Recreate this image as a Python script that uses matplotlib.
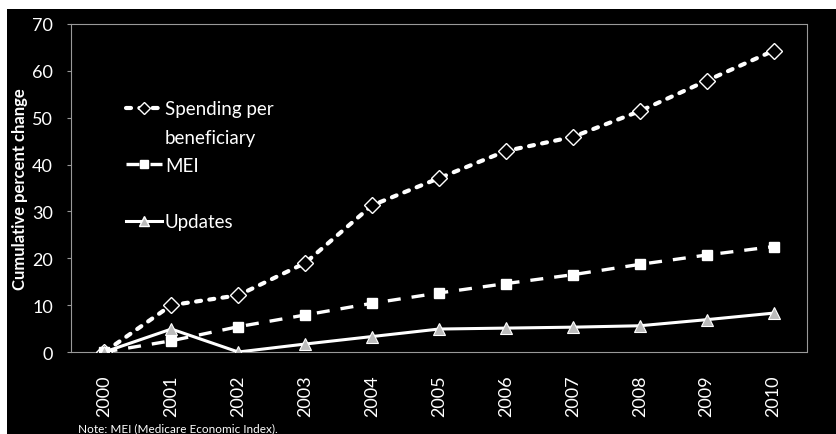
import matplotlib
matplotlib.use("Agg")
import matplotlib.pyplot as plt
from matplotlib.patches import Rectangle
from matplotlib.lines import Line2D

years = ["2000", "2001", "2002", "2003", "2004", "2005", "2006", "2007", "2008", "2009", "2010"]
spending = [0, 10.0, 12.1, 19.0, 31.3, 37.1, 42.9, 45.9, 51.4, 57.9, 64.3]
mei = [0, 2.4, 5.4, 7.9, 10.4, 12.6, 14.6, 16.5, 18.7, 20.7, 22.5]
updates = [0, 4.9, 0.0, 1.7, 3.3, 4.9, 5.1, 5.3, 5.6, 6.9, 8.3]
y_ticks = [0, 10, 20, 30, 40, 50, 60, 70]

plt.rcParams['font.family'] = ['Lato', 'DejaVu Sans']

W, H = 836, 435
fig = plt.figure(figsize=(W / 100, H / 100), dpi=100, facecolor='white')
bg = Rectangle((7 / W, 0), 1, (H - 10) / H, transform=fig.transFigure,
               facecolor='black', edgecolor='none', zorder=-10)
fig.patches.append(bg)

ax = fig.add_axes([71 / W, 1 - 353 / H, (807 - 71) / W, (353 - 25) / H])
ax.set_zorder(5)
ax.set_facecolor('black')
x = list(range(len(years)))

sp_ls = (0, (1.2, 2.0))
mei_ls = (0, (3.9, 3.3))
ax.plot(x, spending, color='white', lw=3, ls=sp_ls, dash_capstyle='round',
        marker='D', ms=8, mfc='black', mec='white', mew=1.0, zorder=3)
ax.plot(x, mei, color='white', lw=2.4, ls=mei_ls,
        marker='s', ms=7.5, mfc='white', mec='white', zorder=3)
ax.plot(x, updates, color='white', lw=2.2, ls='-',
        marker='^', ms=8.5, mfc='#bbbbbb', mec='white', mew=0.8, zorder=3)

ax.set_xlim(-0.5, len(years) - 0.5)
ax.set_ylim(0, 70)
ax.set_xticks(x)
ax.set_xticklabels(years, rotation=90, fontsize=13, color='white')
ax.set_yticks(y_ticks)
ax.set_yticklabels([str(v) for v in y_ticks], fontsize=13, color='white')
ax.tick_params(axis='x', length=0, pad=16)
ax.tick_params(axis='y', length=3, color='#999999', pad=10)
for s in ax.spines.values():
    s.set_color('#999999')
    s.set_linewidth(0.8)
    s.set_linestyle((0, (2, 1)))

ax.set_ylabel('Cumulative percent change', fontsize=12, fontweight='bold', color='white', labelpad=3)

h_sp = Line2D([], [], color='white', lw=3, ls=sp_ls, dash_capstyle='round', marker='D', ms=6,
              mfc='black', mec='white')
h_mei = Line2D([], [], color='white', lw=2.4, ls=mei_ls, marker='s', ms=6,
               mfc='white', mec='white')
h_up = Line2D([], [], color='white', lw=2.2, marker='^', ms=7, mfc='#bbbbbb', mec='white')
h_none = Line2D([], [], color='none')
leg = ax.legend([h_sp, h_none, h_mei, h_none, h_up],
                ['Spending per', 'beneficiary', 'MEI', '', 'Updates'],
                loc='upper left', bbox_to_anchor=(0.065, 0.79), frameon=False,
                fontsize=13.5, labelcolor='white', handlelength=1.9, handletextpad=0.15,
                labelspacing=0.6, borderaxespad=0)

fig.text(78 / W, 1 / H, 'Note: MEI (Medicare Economic Index).', fontsize=8.5,
         color='white', va='bottom', ha='left')

fig.savefig('out.png', dpi=100, facecolor='white')
